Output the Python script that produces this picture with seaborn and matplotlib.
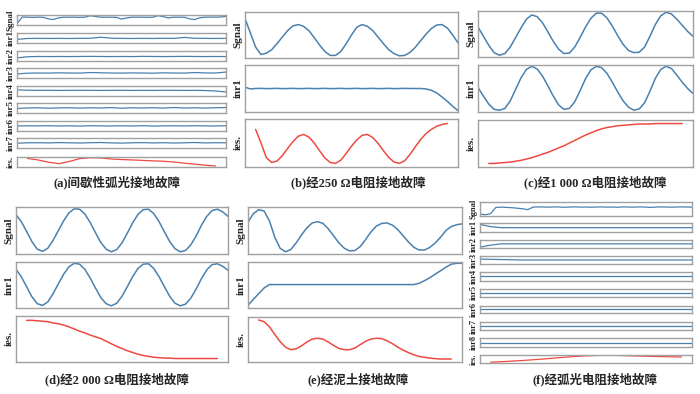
#Six fault waveform panels, each a stack of small line plots
import numpy as np
import pandas as pd
import matplotlib.pyplot as plt
import seaborn as sns

sns.set_style("white")
plt.rcParams['font.family'] = ['Liberation Serif', 'Noto Sans CJK SC', 'DejaVu Sans']

blue = '#4a80ae'
red = '#ee4a42'
edge = '#a0a0a0'

captions = ['(a)间歇性弧光接地故障', '(b)经250 Ω电阻接地故障', '(c)经1 000 Ω电阻接地故障',
            '(d)经2 000 Ω电阻接地故障', '(e)经泥土接地故障', '(f)经弧光电阻接地故障']

# ---- (a) intermittent arc ----
a_sgnal = [0.10, 0.82, 0.80, 0.78, 0.80, 0.79, 0.62, 0.55, 0.74, 0.80, 0.79, 0.80, 0.78, 0.80,
           0.95, 0.88, 0.80, 0.79, 0.80, 0.78, 0.60, 0.72, 0.80, 0.79, 0.80, 0.78, 0.80, 0.96,
           0.85, 0.72, 0.80, 0.79, 0.80, 0.62, 0.55, 0.74, 0.80, 0.81, 0.80, 0.82, 0.88]
a_inr1 = [0.35, 0.45, 0.46, 0.45, 0.46, 0.45, 0.46, 0.47, 0.58, 0.48, 0.46, 0.45, 0.46, 0.45,
          0.47, 0.46, 0.56, 0.47, 0.46, 0.45, 0.46]
a_inr2 = [0.30, 0.42, 0.45, 0.44, 0.45, 0.44, 0.45, 0.46, 0.45, 0.44, 0.45, 0.44, 0.46, 0.45,
          0.44, 0.45, 0.46, 0.45, 0.44, 0.45, 0.44]
a_inr3 = [0.40, 0.48, 0.50, 0.49, 0.52, 0.50, 0.49, 0.55, 0.52, 0.50, 0.49, 0.51, 0.50, 0.48,
          0.52, 0.50, 0.49, 0.55, 0.51, 0.50, 0.60]
a_inr4 = [0.62, 0.58, 0.57, 0.58, 0.56, 0.57, 0.58, 0.57, 0.56, 0.57, 0.58, 0.56, 0.57, 0.56,
          0.58, 0.57, 0.56, 0.57, 0.55, 0.50, 0.40]
a_inr5 = [0.45, 0.50, 0.52, 0.48, 0.51, 0.53, 0.49, 0.52, 0.50, 0.54, 0.48, 0.52, 0.50, 0.53,
          0.49, 0.55, 0.50, 0.52, 0.49, 0.53, 0.55]
a_inr6 = [0.50, 0.52, 0.51, 0.53, 0.50, 0.52, 0.49, 0.53, 0.51, 0.50, 0.52, 0.50, 0.53, 0.49,
          0.51, 0.52, 0.50, 0.53, 0.51, 0.50, 0.52]
a_inr7 = [0.48, 0.52, 0.53, 0.51, 0.54, 0.52, 0.50, 0.53, 0.55, 0.51, 0.49, 0.52, 0.54, 0.51,
          0.53, 0.50, 0.52, 0.55, 0.51, 0.53, 0.52]
a_ies = [np.nan, 0.88, 0.72, 0.48, 0.32, 0.55, 0.86, 0.95, 0.93, 0.82, 0.76, 0.72, 0.67, 0.62,
         0.58, 0.50, 0.38, 0.27, 0.16, 0.08, np.nan]

# ---- (b) 250 ohm ----
b_sgnal = [0.88, 0.55, 0.22, 0.05, 0.08, 0.16, 0.30, 0.45, 0.60, 0.71, 0.74, 0.70, 0.60, 0.44,
           0.27, 0.12, 0.03, 0.03, 0.12, 0.30, 0.50, 0.68, 0.74, 0.70, 0.60, 0.45, 0.30, 0.16,
           0.07, 0.02, 0.03, 0.10, 0.22, 0.37, 0.52, 0.65, 0.73, 0.74, 0.66, 0.50, 0.32]
b_inr1 = [0.53, 0.49, 0.50, 0.503, 0.497, 0.50, 0.503, 0.497, 0.50, 0.503, 0.497, 0.50, 0.503,
          0.497, 0.50, 0.503, 0.497, 0.50, 0.503, 0.497, 0.50, 0.503, 0.497, 0.50, 0.503, 0.497,
          0.50, 0.503, 0.497, 0.50, 0.503, 0.50, 0.50, 0.50, 0.49, 0.46, 0.40, 0.31, 0.21, 0.10, 0.00]
b_ies = [np.nan, np.nan, 0.80, 0.50, 0.18, 0.07, 0.10, 0.22, 0.38, 0.53, 0.65, 0.69, 0.63, 0.50,
         0.33, 0.17, 0.07, 0.05, 0.12, 0.27, 0.43, 0.57, 0.67, 0.69, 0.62, 0.49, 0.33, 0.18,
         0.08, 0.05, 0.11, 0.25, 0.42, 0.58, 0.71, 0.80, 0.87, 0.91, 0.93, np.nan, np.nan]

# ---- (c) 1 000 ohm ----
c_sgnal = [0.66, 0.45, 0.24, 0.07, 0.01, 0.05, 0.20, 0.42, 0.64, 0.84, 0.94, 0.90, 0.76, 0.55,
           0.33, 0.15, 0.05, 0.06, 0.20, 0.42, 0.66, 0.86, 0.98, 0.98, 0.87, 0.68, 0.46, 0.26,
           0.12, 0.07, 0.08, 0.20, 0.45, 0.72, 0.92, 1.00, 0.96, 0.84, 0.70, 0.56, 0.45]
c_inr1 = [0.52, 0.33, 0.15, 0.03, 0.01, 0.05, 0.22, 0.48, 0.74, 0.93, 1.00, 0.94, 0.78, 0.56,
          0.33, 0.13, 0.03, 0.05, 0.20, 0.45, 0.72, 0.92, 1.00, 0.97, 0.84, 0.64, 0.42, 0.22,
          0.08, 0.01, 0.04, 0.18, 0.44, 0.73, 0.93, 1.00, 0.95, 0.80, 0.64, 0.50, 0.39]
c_ies = [np.nan, np.nan, 0.05, 0.05, 0.06, 0.07, 0.08, 0.10, 0.12, 0.15, 0.18, 0.22, 0.26, 0.30,
         0.35, 0.40, 0.45, 0.51, 0.57, 0.63, 0.69, 0.74, 0.79, 0.83, 0.86, 0.88, 0.90, 0.91,
         0.92, 0.93, 0.94, 0.94, 0.94, 0.95, 0.95, 0.95, 0.95, 0.95, 0.95, np.nan, np.nan]

# ---- (d) 2 000 ohm ----
d_sgnal = [0.86, 0.70, 0.48, 0.25, 0.08, 0.03, 0.10, 0.28, 0.50, 0.72, 0.90, 0.99, 0.98, 0.87,
           0.68, 0.45, 0.23, 0.08, 0.02, 0.07, 0.22, 0.44, 0.67, 0.86, 0.97, 0.98, 0.88, 0.70,
           0.47, 0.25, 0.09, 0.02, 0.05, 0.18, 0.38, 0.62, 0.82, 0.95, 0.98, 0.92, 0.82]
d_inr1 = [0.86, 0.69, 0.46, 0.23, 0.07, 0.03, 0.11, 0.30, 0.53, 0.75, 0.92, 1.00, 0.98, 0.86,
          0.66, 0.43, 0.21, 0.07, 0.02, 0.08, 0.24, 0.46, 0.69, 0.88, 0.98, 0.99, 0.88, 0.69,
          0.46, 0.24, 0.08, 0.02, 0.06, 0.20, 0.41, 0.65, 0.85, 0.97, 0.99, 0.93, 0.84]
d_ies = [np.nan, np.nan, 0.93, 0.93, 0.92, 0.91, 0.90, 0.87, 0.85, 0.82, 0.78, 0.73, 0.68, 0.64,
         0.59, 0.55, 0.51, 0.45, 0.39, 0.33, 0.28, 0.23, 0.19, 0.15, 0.12, 0.10, 0.08, 0.07,
         0.06, 0.06, 0.05, 0.05, 0.05, 0.05, 0.05, 0.05, 0.05, 0.05, 0.05, np.nan, np.nan]

# ---- (e) soil ----
e_sgnal = [0.69, 0.88, 0.97, 0.94, 0.72, 0.35, 0.10, 0.02, 0.07, 0.22, 0.40, 0.56, 0.67, 0.70,
           0.66, 0.54, 0.38, 0.22, 0.10, 0.04, 0.05, 0.14, 0.30, 0.47, 0.60, 0.66, 0.67, 0.62,
           0.52, 0.38, 0.24, 0.12, 0.06, 0.06, 0.12, 0.22, 0.35, 0.50, 0.59, 0.63, 0.65]
e_inr1 = [0.03, 0.17, 0.30, 0.43, 0.51, 0.51, 0.51, 0.51, 0.51, 0.51, 0.51, 0.51, 0.51, 0.51,
          0.51, 0.51, 0.51, 0.51, 0.51, 0.51, 0.51, 0.51, 0.51, 0.51, 0.51, 0.51, 0.51, 0.51,
          0.51, 0.51, 0.51, 0.51, 0.54, 0.60, 0.67, 0.75, 0.83, 0.91, 0.98, 1.00, 1.00]
e_ies = [np.nan, np.nan, 0.96, 0.92, 0.80, 0.62, 0.45, 0.32, 0.26, 0.28, 0.35, 0.44, 0.51, 0.53,
         0.51, 0.44, 0.36, 0.29, 0.26, 0.26, 0.30, 0.38, 0.46, 0.51, 0.53, 0.52, 0.47, 0.40,
         0.32, 0.25, 0.19, 0.14, 0.10, 0.08, 0.06, 0.05, 0.04, 0.04, 0.04, np.nan, np.nan]

# ---- (f) arc resistance ----
f_sgnal = [0.12, 0.06, 0.15, 0.62, 0.64, 0.62, 0.60, 0.56, 0.52, 0.45, 0.64, 0.66, 0.65, 0.64,
           0.66, 0.65, 0.63, 0.65, 0.66, 0.64, 0.65, 0.63, 0.65, 0.66, 0.64, 0.65, 0.63, 0.66,
           0.65, 0.64, 0.66, 0.65, 0.62, 0.64, 0.66, 0.65, 0.64, 0.65, 0.66, 0.65, 0.64]
f_inr1 = [0.88, 0.60, 0.48, 0.48, 0.48, 0.48, 0.48, 0.48, 0.48, 0.48, 0.48, 0.48, 0.48, 0.48,
          0.48, 0.48, 0.48, 0.48, 0.48, 0.48, 0.48]
f_inr2 = [0.08, 0.35, 0.52, 0.52, 0.52, 0.52, 0.52, 0.52, 0.52, 0.52, 0.52, 0.52, 0.52, 0.52,
          0.52, 0.52, 0.52, 0.52, 0.52, 0.52, 0.52]
f_inr3 = [0.62, 0.56, 0.50, 0.50, 0.50, 0.50, 0.50, 0.50, 0.50, 0.50, 0.50]
f_inr4 = [0.50, 0.50, 0.50, 0.50, 0.50, 0.50, 0.50, 0.50, 0.50, 0.50, 0.50]
f_inr5 = [0.48, 0.48, 0.48, 0.48, 0.48, 0.48, 0.48, 0.48, 0.48, 0.48, 0.48]
f_inr6 = [0.52, 0.52, 0.52, 0.52, 0.52, 0.52, 0.52, 0.52, 0.52, 0.52, 0.52]
f_inr7 = [0.50, 0.50, 0.50, 0.50, 0.50, 0.50, 0.50, 0.50, 0.50, 0.50, 0.50]
f_inr8 = [0.50, 0.50, 0.50, 0.50, 0.50, 0.50, 0.50, 0.50, 0.50, 0.50, 0.50]
f_ies = [np.nan, 0.08, 0.14, 0.22, 0.30, 0.40, 0.50, 0.62, 0.74, 0.84, 0.92, 0.97, 0.99, 0.97,
         0.93, 0.89, 0.85, 0.82, 0.79, 0.76, np.nan]

W, H = 700, 394
fig = plt.figure(figsize=(7, 3.94), dpi=100)


def box(x0, y0, x1, y1):
    return fig.add_axes([x0 / W, 1 - y1 / H, (x1 - x0) / W, (y1 - y0) / H])


def trace(ax, y, label, color, size, lw=1.1):
    df = pd.DataFrame({'t': np.linspace(0, 1, len(y)), 'v': y}).dropna()
    sns.lineplot(data=df, x='t', y='v', ax=ax, color=color, linewidth=lw, estimator=None)
    ax.set_xlim(0, 1)
    ax.set_ylim(-0.03, 1.03)
    ax.set_xticks([])
    ax.set_yticks([])
    ax.set_xlabel('')
    ax.set_ylabel(label, fontsize=size, fontweight='bold', labelpad=1.5)
    for s in ax.spines.values():
        s.set_color(edge)
        s.set_linewidth(1.0)


def stack(x0, x1, tops, bottoms, series, labels, size, lw):
    for i, (yv, lab) in enumerate(zip(series, labels)):
        ax = box(x0, tops[i], x1, bottoms[i])
        col = red if lab == 'ies.' else blue
        trace(ax, yv, lab, col, size, lw)


# (a)
a_top = [15, 33, 51, 68, 86, 103, 121, 138, 157]
stack(17, 226, a_top, [t + 10 for t in a_top],
      [a_sgnal, a_inr1, a_inr2, a_inr3, a_inr4, a_inr5, a_inr6, a_inr7, a_ies],
      ['Sgnal', 'inr1', 'inr2', 'inr3', 'inr4', 'inr5', 'inr6', 'inr7', 'ies.'], 6.5, 0.9)

# (b), (c)
big_labels = ['Sgnal', 'inr1', 'ies.']
stack(245, 458, [12, 65, 119], [58, 112, 167], [b_sgnal, b_inr1, b_ies], big_labels, 8, 1.1)
stack(478, 693, [11, 65, 120], [57, 112, 167], [c_sgnal, c_inr1, c_ies], big_labels, 8, 1.1)
# (d), (e)
stack(16, 228, [207, 262, 316], [254, 308, 362], [d_sgnal, d_inr1, d_ies], big_labels, 8, 1.1)
stack(248, 462, [207, 262, 317], [254, 308, 362], [e_sgnal, e_inr1, e_ies], big_labels, 8, 1.1)

# (f)
f_top = [202, 223, 240, 256, 272, 289, 306, 322, 338, 355]
f_bot = [216, 232, 248, 264, 281, 297, 313, 330, 347, 363]
stack(480, 692, f_top, f_bot,
      [f_sgnal, f_inr1, f_inr2, f_inr3, f_inr4, f_inr5, f_inr6, f_inr7, f_inr8, f_ies],
      ['Sgnal', 'inr1', 'inr2', 'inr3', 'inr4', 'inr5', 'inr6', 'inr7', 'inr8', 'ies.'], 6, 0.9)

cap_pos = [(117, 182), (358, 182), (595, 182), (117, 379), (358, 379), (595, 379)]
for (cx, cy), txt in zip(cap_pos, captions):
    fig.text(cx / W, 1 - cy / H, txt, ha='center', va='center', fontsize=9, fontweight='bold')

plt.savefig('out.png', dpi=100)
